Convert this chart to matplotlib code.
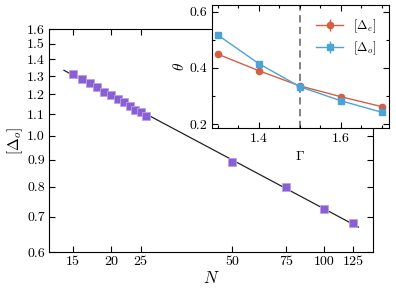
import numpy as np
import matplotlib
matplotlib.use("Agg")
import matplotlib.pyplot as plt
from matplotlib.ticker import FixedLocator, FixedFormatter, NullLocator, MultipleLocator

# main panel data
N = [15, 16, 17, 18, 19, 20, 21, 22, 23, 24, 25, 26, 50, 75, 100, 125]
delta_o = [1.312, 1.286, 1.262, 1.240, 1.214, 1.198, 1.178, 1.159, 1.140, 1.122,
           1.110, 1.091, 0.893, 0.800, 0.724, 0.681]
x_ticks = [15, 20, 25, 50, 75, 100, 125]
y_ticks = [0.6, 0.7, 0.8, 0.9, 1.0, 1.1, 1.2, 1.3, 1.4, 1.5, 1.6]

# inset data
gamma = [1.3, 1.4, 1.5, 1.6, 1.7]
theta_e = [0.449, 0.390, 0.336, 0.2975, 0.262]
theta_o = [0.517, 0.415, 0.333, 0.283, 0.242]
err_e = [0.004, 0.004, 0.004, 0.004, 0.004]
err_o = [0.004, 0.004, 0.004, 0.004, 0.004]
gamma_c = 1.5

plt.rcParams["font.family"] = "serif"
plt.rcParams["font.serif"] = ["cmr10", "DejaVu Serif"]
plt.rcParams["mathtext.fontset"] = "cm"
plt.rcParams["axes.unicode_minus"] = False
plt.rcParams["axes.formatter.use_mathtext"] = True

purple = "#8a5fd4"
red = "#d35f45"
blue = "#4ba3d6"

fig = plt.figure(figsize=(3.96, 2.94), dpi=100)
ax = fig.add_axes([0.1237, 0.1429, 0.818, 0.7585])

# power-law fit
slope, icpt = np.polyfit(np.log(N), np.log(delta_o), 1)
xf = np.array([14.0, 130.0])
ax.plot(xf, np.exp(icpt) * xf ** slope, color="#222222", lw=0.9, zorder=1)
ax.plot(N, delta_o, ls="none", marker="s", ms=5.7, color=purple,
        mec="#b9a3ea", mew=0.6, zorder=2)

ax.set_xscale("log")
ax.set_yscale("log")
ax.set_xlim(12.5, 145)
ax.set_ylim(0.6, 1.6)
ax.xaxis.set_major_locator(FixedLocator(x_ticks))
ax.xaxis.set_major_formatter(FixedFormatter([str(t) for t in x_ticks]))
ax.xaxis.set_minor_locator(NullLocator())
ax.yaxis.set_major_locator(FixedLocator(y_ticks))
ax.yaxis.set_major_formatter(FixedFormatter(["%.1f" % t for t in y_ticks]))
ax.yaxis.set_minor_locator(NullLocator())
ax.tick_params(which="both", direction="in", top=True, right=True,
               labelsize=10, length=4, width=0.8, pad=3)
ax.set_xlabel("$N$", fontsize=12, labelpad=1)
ax.set_ylabel(r"$[\Delta_o]$", fontsize=11, labelpad=1)

# inset
ins = fig.add_axes([0.5346, 0.5636, 0.4485, 0.4194])
ins.axvline(gamma_c, color="#777777", ls=(0, (4, 2.5)), lw=1.3, zorder=0)
ins.errorbar(gamma, theta_e, yerr=err_e, color=red, marker="o", ms=4.5,
             lw=1.0, label=r"$[\Delta_e]$")
ins.errorbar(gamma, theta_o, yerr=err_o, color=blue, marker="s", ms=4.5,
             lw=1.0, label=r"$[\Delta_o]$")
ins.set_xlim(1.285, 1.718)
ins.set_ylim(0.185, 0.624)
ins.xaxis.set_minor_locator(MultipleLocator(0.05))
ins.yaxis.set_minor_locator(MultipleLocator(0.1))
ins.set_xticks([1.4, 1.6])
ins.set_xticklabels(["1.4", "1.6"])
ins.set_yticks([0.2, 0.4, 0.6])
ins.set_yticklabels(["0.2", "0.4", "0.6"])
ins.tick_params(which="both", direction="in", top=True, right=True,
                labelsize=10, width=0.8, pad=3)
ins.tick_params(which="major", length=4)
ins.tick_params(which="minor", length=2.5)
ins.set_xlabel(r"$\Gamma$", fontsize=10, labelpad=4)
ins.set_ylabel(r"$\theta$", fontsize=11, labelpad=2)
ins.legend(loc="upper right", fontsize=9, frameon=False, handlelength=2.2,
           borderaxespad=0.6, labelspacing=0.35)

fig.savefig("out.png", dpi=100)
